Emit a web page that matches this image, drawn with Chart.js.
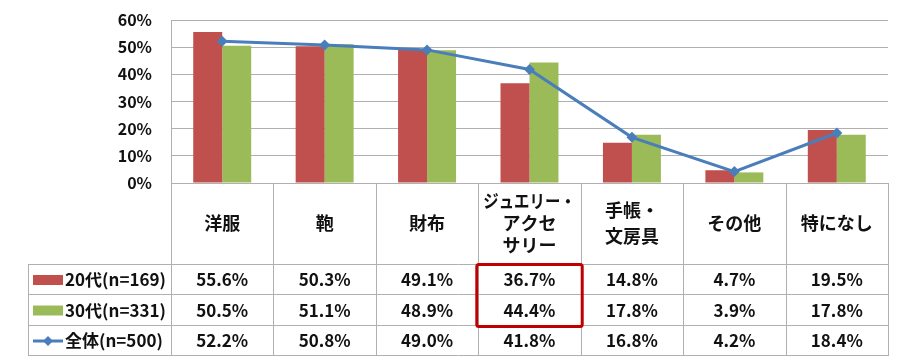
<!DOCTYPE html>
<html>
<head>
<meta charset="utf-8">
<script src="https://cdn.jsdelivr.net/npm/chart.js@4.4.0/dist/chart.umd.min.js"></script>
<style>
html,body{margin:0;padding:0;background:#fff;}
#wrap{width:905px;height:363px;}
</style>
</head>
<body>
<div id="wrap"><canvas id="c" width="905" height="363"></canvas></div>
<script>
// ---- data ----
const categories = [['洋服'], ['鞄'], ['財布'], ['ジュエリー・', 'アクセ', 'サリー'], ['手帳・', '文房具'], ['その他'], ['特になし']];
const seriesNames = ['20代(n=169)', '30代(n=331)', '全体(n=500)'];
const values20s = [55.6, 50.3, 49.1, 36.7, 14.8, 4.7, 19.5];
const values30s = [50.5, 51.1, 48.9, 44.4, 17.8, 3.9, 17.8];
const valuesAll = [52.2, 50.8, 49.0, 41.8, 16.8, 4.2, 18.4];
const yMin = 0, yMax = 60, yStep = 10;
const highlightCategory = 3; // red box around rows 1-2 of this column

// ---- styles ----
const RED = '#C0504D', GREEN = '#9BBB59', BLUE = '#4A7EBB';
const GRID = '#B0B0B0';
const FONT = "'Noto Sans CJK JP', 'Noto Sans', sans-serif";

Chart.defaults.font.family = FONT;
Chart.defaults.font.weight = 'bold';
Chart.defaults.font.size = 16;
Chart.defaults.color = '#111';

const fmt = v => v.toFixed(1) + '%';

const tablePlugin = {
  id: 'dataTable',
  afterDraw(chart) {
    const ctx = chart.ctx;
    const x = chart.scales.x;
    const area = chart.chartArea;
    const n = categories.length;
    const catW = (area.right - area.left) / n;
    const top = area.bottom;
    const headerBottom = top + 81;
    const rowH = [30, 31, 30];
    const rowTops = [headerBottom, headerBottom + rowH[0], headerBottom + rowH[0] + rowH[1]];
    const tableBottom = rowTops[2] + rowH[2];
    const legendLeft = 28;
    ctx.save();
    ctx.strokeStyle = GRID;
    ctx.lineWidth = 1;
    const hline = (x1, x2, y) => { ctx.beginPath(); ctx.moveTo(x1, Math.round(y) + 0.5); ctx.lineTo(x2, Math.round(y) + 0.5); ctx.stroke(); };
    const vline = (xx, y1, y2) => { ctx.beginPath(); ctx.moveTo(Math.round(xx) + 0.5, y1); ctx.lineTo(Math.round(xx) + 0.5, y2); ctx.stroke(); };
    rowTops.forEach(y => hline(legendLeft, area.right + 1, y));
    hline(legendLeft, area.right + 1, tableBottom);
    vline(legendLeft, rowTops[0], tableBottom + 1);
    for (let i = 0; i <= n; i++) {
      const bx = x.getPixelForValue(i) - catW / 2;
      vline(Math.min(bx, area.right), top, tableBottom + 1);
    }
    vline(area.right, top, tableBottom + 1);

    // header labels
    ctx.fillStyle = '#111';
    ctx.textAlign = 'center';
    ctx.textBaseline = 'middle';
    ctx.font = 'bold 18px ' + FONT;
    const hc = (top + headerBottom) / 2;
    categories.forEach((lines, i) => {
      const cx = x.getPixelForValue(i);
      const lh = lines.length === 2 ? 26 : 22;
      const start = hc - (lines.length - 1) * lh / 2;
      lines.forEach((t, j) => ctx.fillText(t, cx, start + j * lh, catW - 10));
    });

    // values
    ctx.font = 'bold 17px ' + FONT;
    const rows = [values20s, values30s, valuesAll];
    rows.forEach((vals, r) => {
      const cy = rowTops[r] + rowH[r] / 2;
      ctx.textAlign = 'center';
      ctx.fillStyle = '#111';
      vals.forEach((v, i) => ctx.fillText(fmt(v), x.getPixelForValue(i), cy + 1));
      const kx = 33;
      if (r < 2) {
        ctx.fillStyle = r === 0 ? RED : GREEN;
        ctx.fillRect(kx, cy - 4, 30, 10);
      } else {
        ctx.strokeStyle = BLUE;
        ctx.lineWidth = 3;
        ctx.beginPath(); ctx.moveTo(kx, cy + 1); ctx.lineTo(kx + 30, cy + 1); ctx.stroke();
        ctx.fillStyle = BLUE;
        ctx.beginPath();
        ctx.moveTo(kx + 15, cy - 4); ctx.lineTo(kx + 20, cy + 1); ctx.lineTo(kx + 15, cy + 6); ctx.lineTo(kx + 10, cy + 1); ctx.closePath();
        ctx.fill();
        ctx.strokeStyle = GRID; ctx.lineWidth = 1;
      }
      ctx.fillStyle = '#111';
      ctx.textAlign = 'left';
      ctx.fillText(seriesNames[r], 65, cy + 1);
    });

    // highlight box
    const hx = x.getPixelForValue(highlightCategory);
    ctx.strokeStyle = '#C00000';
    ctx.lineWidth = 3;
    ctx.beginPath();
    if (ctx.roundRect) ctx.roundRect(hx - catW / 2 - 1.5, rowTops[0] + 0.5, catW + 3, rowH[0] + rowH[1] + 1, 2);
    else ctx.rect(hx - catW / 2 - 1.5, rowTops[0] + 0.5, catW + 3, rowH[0] + rowH[1] + 1);
    ctx.stroke();
    ctx.restore();
  }
};

new Chart(document.getElementById('c'), {
  type: 'bar',
  data: {
    labels: categories.map(c => c.join('')),
    datasets: [
      {
        type: 'line', label: seriesNames[2], data: valuesAll, order: 0,
        borderColor: BLUE, backgroundColor: BLUE, borderWidth: 3,
        pointStyle: 'rectRot', pointRadius: 5.5, pointBackgroundColor: BLUE, pointBorderColor: BLUE, pointBorderWidth: 0,
        tension: 0
      },
      { label: seriesNames[0], data: values20s, backgroundColor: RED, order: 1, categoryPercentage: 0.566, barPercentage: 1 },
      { label: seriesNames[1], data: values30s, backgroundColor: GREEN, order: 1, categoryPercentage: 0.566, barPercentage: 1 }
    ]
  },
  options: {
    responsive: false,
    animation: false,
    layout: { padding: { left: 0, right: 17, top: 20, bottom: 180 } },
    plugins: { legend: { display: false }, tooltip: { enabled: false } },
    scales: {
      x: { display: false, offset: true },
      y: {
        min: yMin, max: yMax,
        afterFit(scale) { scale.width = 171; },
        ticks: { stepSize: yStep, padding: 3, color: '#111', font: { size: 16, weight: 'bold' }, callback: v => v + '%' },
        grid: { color: GRID, drawTicks: true, tickLength: 16, tickColor: 'rgba(0,0,0,0)', lineWidth: 1 },
        border: { display: true, color: GRID }
      }
    }
  },
  plugins: [tablePlugin]
});
</script>
</body>
</html>
